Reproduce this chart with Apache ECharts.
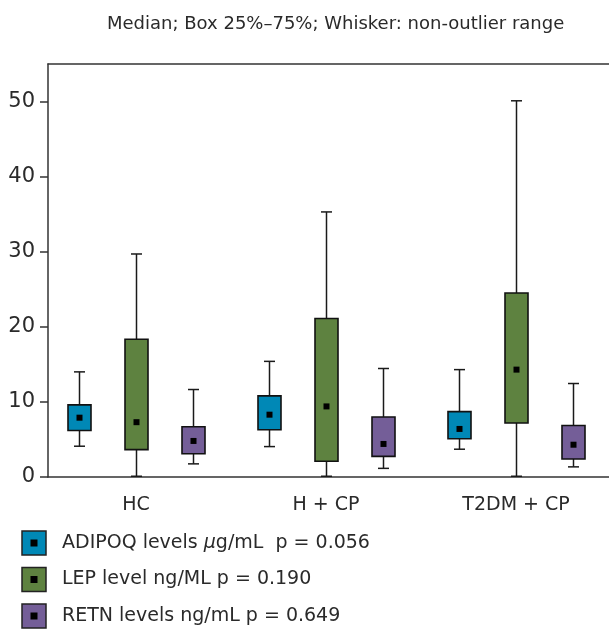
<!DOCTYPE html>
<html>
<head>
<meta charset="utf-8">
<script src="https://cdn.jsdelivr.net/npm/echarts@6/dist/echarts.min.js"></script>
<style>html,body{margin:0;padding:0;background:#fff}#c{width:609px;height:629px}</style>
</head>
<body>
<div id="c"></div>
<script>
const categories = ['HC', 'H + CP', 'T2DM + CP'];
const seriesNames = ['ADIPOQ levels µg/mL  p = 0.056', 'LEP level ng/ML p = 0.190', 'RETN levels ng/mL p = 0.649'];
const seriesColors = ['#0088B6', '#5E8240', '#745E98'];
// [low whisker, q1, median, q3, high whisker] per category
const adipoq = [[4.1, 6.2, 7.9, 9.6, 14.0], [4.05, 6.3, 8.3, 10.8, 15.4], [3.7, 5.1, 6.4, 8.7, 14.3]];
const lep    = [[0.1, 3.65, 7.3, 18.35, 29.7], [0.1, 2.1, 9.4, 21.1, 35.3], [0.1, 7.2, 14.3, 24.5, 50.1]];
const retn   = [[1.75, 3.1, 4.8, 6.7, 11.65], [1.15, 2.75, 4.4, 8.0, 14.45], [1.35, 2.4, 4.3, 6.85, 12.45]];
const yTicks = [0, 10, 20, 30, 40, 50];

const FONT = 'DejaVu Sans';
const TXT = '#2a2a2a';
const allData = [adipoq, lep, retn];
const offsets = [-0.3, 0, 0.3];

function makeRender(offset) {
  return function (params, api) {
    const x = api.value(0) + offset;
    const pLow = api.coord([x, api.value(1)]);
    const pQ1 = api.coord([x, api.value(2)]);
    const pMed = api.coord([x, api.value(3)]);
    const pQ3 = api.coord([x, api.value(4)]);
    const pHigh = api.coord([x, api.value(5)]);
    const bw = 23, cw = 11, ms = 6;
    const cx = Math.round(pMed[0]) + 0.5;
    const lineStyle = { stroke: '#1a1a1a', lineWidth: 1.5 };
    return {
      type: 'group',
      children: [
        { type: 'line', shape: { x1: cx, y1: pHigh[1], x2: cx, y2: pQ3[1] }, style: lineStyle },
        { type: 'line', shape: { x1: cx, y1: pQ1[1], x2: cx, y2: pLow[1] }, style: lineStyle },
        { type: 'line', shape: { x1: cx - cw / 2, y1: pHigh[1], x2: cx + cw / 2, y2: pHigh[1] }, style: lineStyle },
        { type: 'line', shape: { x1: cx - cw / 2, y1: pLow[1], x2: cx + cw / 2, y2: pLow[1] }, style: lineStyle },
        { type: 'rect', shape: { x: cx - bw / 2, y: pQ3[1], width: bw, height: pQ1[1] - pQ3[1] },
          style: { fill: api.visual('color'), stroke: '#111', lineWidth: 1.6 } },
        { type: 'rect', shape: { x: cx - ms / 2, y: pMed[1] - ms / 2, width: ms, height: ms },
          style: { fill: '#000' } }
      ]
    };
  };
}

const series = allData.map((arr, si) => ({
  type: 'custom',
  name: seriesNames[si],
  xAxisIndex: 0,
  itemStyle: { color: seriesColors[si] },
  renderItem: makeRender(offsets[si]),
  encode: { x: 0, y: [1, 2, 3, 4, 5] },
  data: arr.map((v, ci) => [ci].concat(v)),
  clip: false
}));

// legend drawn as graphic elements
const legendTop = 531, legendStep = 36.5, iconSize = 24, legendLeft = 22, legendTextX = 62;
const legendGraphics = [];
seriesNames.forEach((n, i) => {
  const y0 = legendTop + i * legendStep;
  legendGraphics.push({
    type: 'rect', shape: { x: legendLeft, y: y0, width: iconSize, height: iconSize },
    style: { fill: seriesColors[i], stroke: '#222', lineWidth: 1.5 }
  });
  legendGraphics.push({
    type: 'rect', shape: { x: legendLeft + iconSize / 2 - 3.5, y: y0 + iconSize / 2 - 3.5, width: 7, height: 7 },
    style: { fill: '#000' }
  });
  const parts = n.split('µ');
  const richText = parts.length > 1 ? '{n|' + parts[0] + '}{i|µ}{n|' + parts[1] + '}' : '{n|' + n + '}';
  legendGraphics.push({
    type: 'text', x: legendTextX, y: y0 + iconSize / 2,
    style: {
      text: richText, verticalAlign: 'middle', align: 'left',
      rich: {
        n: { fontFamily: FONT, fontSize: 19, fill: TXT },
        i: { fontFamily: FONT, fontSize: 19, fontStyle: 'italic', fill: TXT }
      }
    }
  });
});

const xMin = -0.463, xMax = 2.489;
const chart = echarts.init(document.getElementById('c'), null, { renderer: 'canvas' });
chart.setOption({
  animation: false,
  backgroundColor: '#fff',
  textStyle: { fontFamily: FONT },
  title: {
    text: 'Median; Box 25%–75%; Whisker: non-outlier range',
    left: 102, top: 10,
    textStyle: { fontFamily: FONT, fontSize: 18, fontWeight: 'normal', color: TXT }
  },
  grid: { left: 48, right: 0, top: 64, bottom: 152, show: false },
  xAxis: [{
    type: 'value', min: xMin, max: xMax, position: 'bottom',
    axisLine: { show: true, onZero: false, lineStyle: { color: '#333', width: 1.5 } },
    axisTick: { show: false },
    splitLine: { show: false },
    axisLabel: {
      customValues: [0, 1, 2],
      formatter: v => categories[Math.round(v)],
      margin: 19, fontSize: 19, color: TXT, fontFamily: FONT
    }
  }, {
    type: 'value', min: xMin, max: xMax, position: 'top',
    axisLine: { show: true, onZero: false, lineStyle: { color: '#333', width: 1.5 } },
    axisTick: { show: false }, axisLabel: { show: false }, splitLine: { show: false }
  }],
  yAxis: {
    type: 'value', min: 0, max: 55, interval: 10,
    axisLine: { show: true, onZero: false, lineStyle: { color: '#333', width: 1.5 } },
    axisTick: { show: true, length: 8, lineStyle: { color: '#333', width: 1.5 }, customValues: yTicks },
    splitLine: { show: false },
    axisLabel: { customValues: yTicks, margin: 13, fontSize: 21, color: TXT, fontFamily: FONT }
  },
  graphic: legendGraphics,
  series: series
});
</script>
</body>
</html>
